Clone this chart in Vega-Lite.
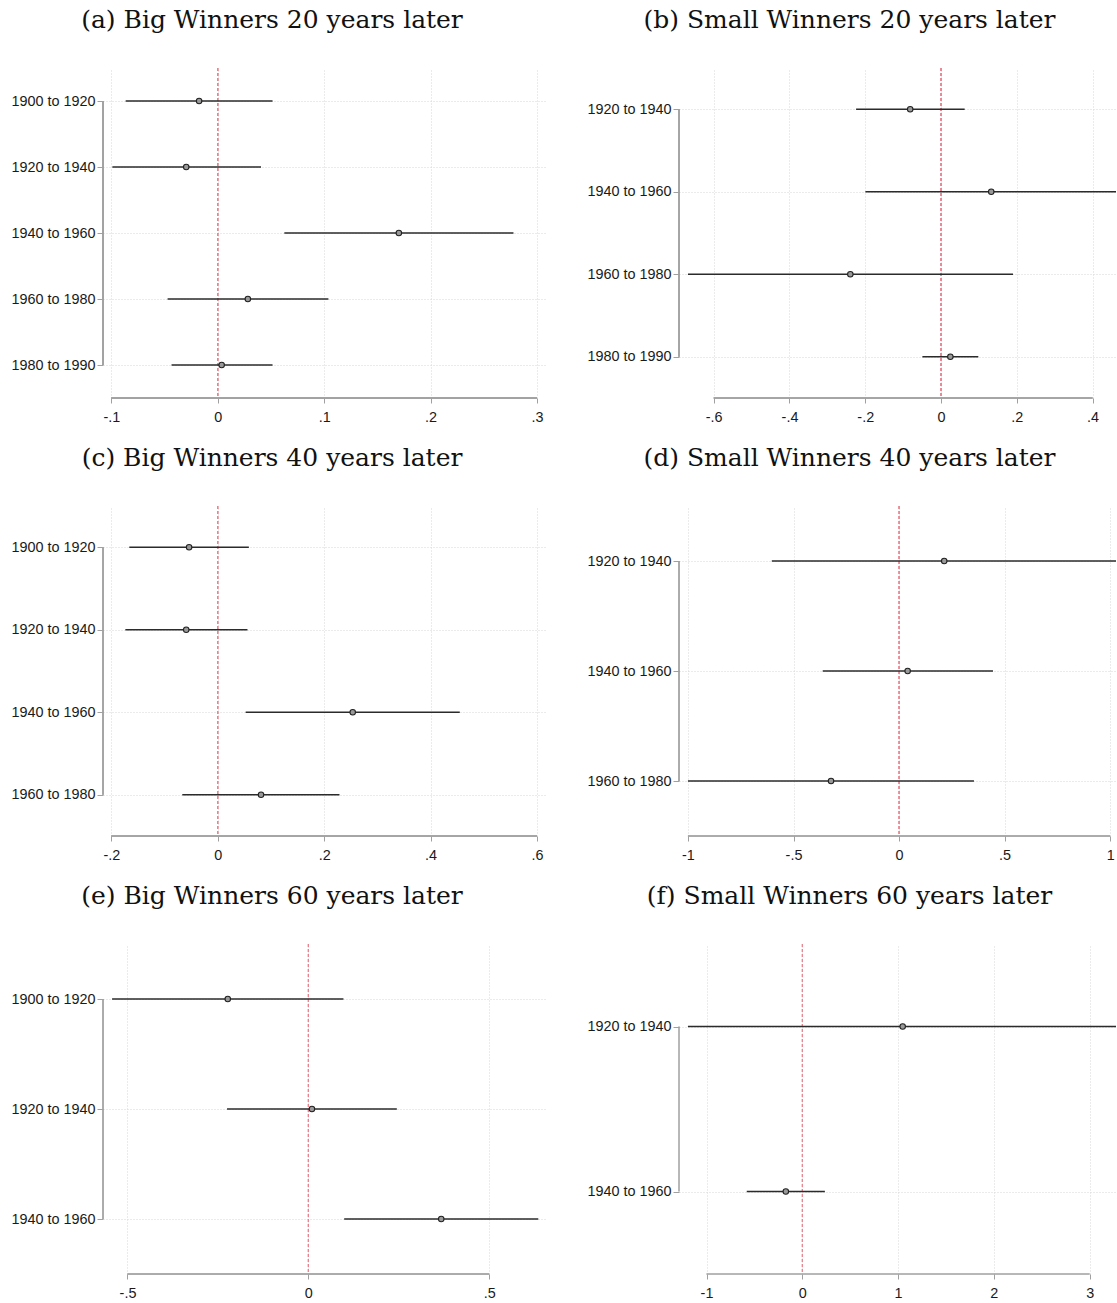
{
  "$schema": "https://vega.github.io/schema/vega-lite/v6.json",
  "padding": {"left": 10, "top": 7, "right": 0, "bottom": 0},
  "background": "white",
  "datasets": {
    "est": [
      {"panel": "a", "period": "1900 to 1920", "lo": -0.0865, "est": -0.0175, "hi": 0.0515},
      {"panel": "a", "period": "1920 to 1940", "lo": -0.099, "est": -0.0296, "hi": 0.0407},
      {"panel": "a", "period": "1940 to 1960", "lo": 0.0626, "est": 0.1702, "hi": 0.2779},
      {"panel": "a", "period": "1960 to 1980", "lo": -0.0471, "est": 0.0283, "hi": 0.104},
      {"panel": "a", "period": "1980 to 1990", "lo": -0.0434, "est": 0.0037, "hi": 0.0515},
      {"panel": "b", "period": "1920 to 1940", "lo": -0.2242, "est": -0.0814, "hi": 0.0624},
      {"panel": "b", "period": "1940 to 1960", "lo": -0.1996, "est": 0.1325, "hi": 0.47},
      {"panel": "b", "period": "1960 to 1980", "lo": -0.668, "est": -0.2394, "hi": 0.19},
      {"panel": "b", "period": "1980 to 1990", "lo": -0.0492, "est": 0.0246, "hi": 0.0984},
      {"panel": "c", "period": "1900 to 1920", "lo": -0.1662, "est": -0.0538, "hi": 0.0585},
      {"panel": "c", "period": "1920 to 1940", "lo": -0.1736, "est": -0.0592, "hi": 0.0559},
      {"panel": "c", "period": "1940 to 1960", "lo": 0.0525, "est": 0.2537, "hi": 0.4549},
      {"panel": "c", "period": "1960 to 1980", "lo": -0.0666, "est": 0.0814, "hi": 0.2288},
      {"panel": "d", "period": "1920 to 1940", "lo": -0.6027, "est": 0.2139, "hi": 1.05},
      {"panel": "d", "period": "1940 to 1960", "lo": -0.3616, "est": 0.0407, "hi": 0.4448},
      {"panel": "d", "period": "1960 to 1980", "lo": -1.0, "est": -0.3222, "hi": 0.3548},
      {"panel": "e", "period": "1900 to 1920", "lo": -0.5426, "est": -0.2228, "hi": 0.097},
      {"panel": "e", "period": "1920 to 1940", "lo": -0.2248, "est": 0.0099, "hi": 0.2446},
      {"panel": "e", "period": "1940 to 1960", "lo": 0.099, "est": 0.3673, "hi": 0.6356},
      {"panel": "f", "period": "1920 to 1940", "lo": -1.194, "est": 1.048, "hi": 3.35},
      {"panel": "f", "period": "1940 to 1960", "lo": -0.58, "est": -0.172, "hi": 0.2357}
    ]
  },
  "config": {
    "view": {"stroke": null},
    "font": "Liberation Sans",
    "axis": {"labelFont": "Liberation Sans", "labelFontSize": 14.4, "labelColor": "#1a1a1a", "domain": false, "tickColor": "#a0a0a0", "grid": true, "gridColor": "#d6d6d6", "gridDash": [1, 2], "gridWidth": 1},
    "axisX": {"tickSize": 5, "labelPadding": 7},
    "axisY": {"tickSize": 6, "labelPadding": 2},
    "title": {"font": "DejaVu Serif", "fontSize": 25, "fontWeight": "normal", "color": "#111111", "anchor": "middle", "baseline": "alphabetic", "offset": 35}
  },
  "spacing": 21,
  "vconcat": [
    {
      "spacing": 39,
      "hconcat": [
        {
          "title": {"text": "(a) Big Winners 20 years later", "dx": -53},
          "width": 444, "height": 330,
          "data": {"name": "est"},
          "transform": [{"filter": "datum.panel == 'a'"}],
          "layer": [
            {"mark": {"type": "rule", "color": "#a0a0a0", "strokeWidth": 1},
             "encoding": {
               "x": {"datum": -0.1078, "type": "quantitative", "scale": {"domain": [-0.1078, 0.3094], "nice": false, "zero": false}, "axis": {"title": null, "values": [-0.1, 0, 0.1, 0.2, 0.3], "labelExpr": "datum.value == 0 ? '0' : (datum.value < 0 ? '-' : '') + replace(toString(abs(datum.value)), '0.', '.')"}},
               "y": {"datum": "1900 to 1920", "type": "nominal", "scale": {"type": "point", "padding": 0.5, "domain": ["1900 to 1920", "1920 to 1940", "1940 to 1960", "1960 to 1980", "1980 to 1990"]}, "axis": {"title": null}},
               "y2": {"datum": "1980 to 1990"}}},
            {"mark": {"type": "rule", "color": "#a0a0a0", "strokeWidth": 1},
             "encoding": {"x": {"datum": -0.1, "type": "quantitative"}, "x2": {"datum": 0.3}, "y": {"value": "height"}}},
            {"mark": {"type": "rule", "color": "#e8848f", "strokeDash": [3, 2], "strokeWidth": 1},
             "encoding": {"x": {"datum": 0, "type": "quantitative"}}},
            {"mark": {"type": "rule", "color": "#2b2b2b", "strokeWidth": 1.5, "clip": true},
             "encoding": {"x": {"field": "lo", "type": "quantitative"}, "x2": {"field": "hi"}, "y": {"field": "period", "type": "nominal"}}},
            {"mark": {"type": "point", "shape": "circle", "filled": true, "fill": "#999999", "stroke": "#222222", "strokeWidth": 1.1, "size": 30, "opacity": 1},
             "encoding": {"x": {"field": "est", "type": "quantitative"}, "y": {"field": "period", "type": "nominal"}}}
          ]
        },
        {
          "title": {"text": "(b) Small Winners 20 years later", "dx": -48},
          "width": 437, "height": 330,
          "data": {"name": "est"},
          "transform": [{"filter": "datum.panel == 'b'"}],
          "layer": [
            {"mark": {"type": "rule", "color": "#a0a0a0", "strokeWidth": 1},
             "encoding": {
               "x": {"datum": -0.6916, "type": "quantitative", "scale": {"domain": [-0.6916, 0.4618], "nice": false, "zero": false}, "axis": {"title": null, "values": [-0.6, -0.4, -0.2, 0, 0.2, 0.4], "labelExpr": "datum.value == 0 ? '0' : (datum.value < 0 ? '-' : '') + replace(toString(abs(datum.value)), '0.', '.')"}},
               "y": {"datum": "1920 to 1940", "type": "nominal", "scale": {"type": "point", "padding": 0.5, "domain": ["1920 to 1940", "1940 to 1960", "1960 to 1980", "1980 to 1990"]}, "axis": {"title": null}},
               "y2": {"datum": "1980 to 1990"}}},
            {"mark": {"type": "rule", "color": "#a0a0a0", "strokeWidth": 1},
             "encoding": {"x": {"datum": -0.6, "type": "quantitative"}, "x2": {"datum": 0.4}, "y": {"value": "height"}}},
            {"mark": {"type": "rule", "color": "#e8848f", "strokeDash": [3, 2], "strokeWidth": 1},
             "encoding": {"x": {"datum": 0, "type": "quantitative"}}},
            {"mark": {"type": "rule", "color": "#2b2b2b", "strokeWidth": 1.5, "clip": true},
             "encoding": {"x": {"field": "lo", "type": "quantitative"}, "x2": {"field": "hi"}, "y": {"field": "period", "type": "nominal"}}},
            {"mark": {"type": "point", "shape": "circle", "filled": true, "fill": "#999999", "stroke": "#222222", "strokeWidth": 1.1, "size": 30, "opacity": 1},
             "encoding": {"x": {"field": "est", "type": "quantitative"}, "y": {"field": "period", "type": "nominal"}}}
          ]
        }
      ]
    },
    {
      "spacing": 39,
      "hconcat": [
        {
          "title": {"text": "(c) Big Winners 40 years later", "dx": -53},
          "width": 444, "height": 330,
          "data": {"name": "est"},
          "transform": [{"filter": "datum.panel == 'c'"}],
          "layer": [
            {"mark": {"type": "rule", "color": "#a0a0a0", "strokeWidth": 1},
             "encoding": {
               "x": {"datum": -0.2156, "type": "quantitative", "scale": {"domain": [-0.2156, 0.6188], "nice": false, "zero": false}, "axis": {"title": null, "values": [-0.2, 0, 0.2, 0.4, 0.6], "labelExpr": "datum.value == 0 ? '0' : (datum.value < 0 ? '-' : '') + replace(toString(abs(datum.value)), '0.', '.')"}},
               "y": {"datum": "1900 to 1920", "type": "nominal", "scale": {"type": "point", "padding": 0.5, "domain": ["1900 to 1920", "1920 to 1940", "1940 to 1960", "1960 to 1980"]}, "axis": {"title": null}},
               "y2": {"datum": "1960 to 1980"}}},
            {"mark": {"type": "rule", "color": "#a0a0a0", "strokeWidth": 1},
             "encoding": {"x": {"datum": -0.2, "type": "quantitative"}, "x2": {"datum": 0.6}, "y": {"value": "height"}}},
            {"mark": {"type": "rule", "color": "#e8848f", "strokeDash": [3, 2], "strokeWidth": 1},
             "encoding": {"x": {"datum": 0, "type": "quantitative"}}},
            {"mark": {"type": "rule", "color": "#2b2b2b", "strokeWidth": 1.5, "clip": true},
             "encoding": {"x": {"field": "lo", "type": "quantitative"}, "x2": {"field": "hi"}, "y": {"field": "period", "type": "nominal"}}},
            {"mark": {"type": "point", "shape": "circle", "filled": true, "fill": "#999999", "stroke": "#222222", "strokeWidth": 1.1, "size": 30, "opacity": 1},
             "encoding": {"x": {"field": "est", "type": "quantitative"}, "y": {"field": "period", "type": "nominal"}}}
          ]
        },
        {
          "title": {"text": "(d) Small Winners 40 years later", "dx": -48},
          "width": 437, "height": 330,
          "data": {"name": "est"},
          "transform": [{"filter": "datum.panel == 'd'"}],
          "layer": [
            {"mark": {"type": "rule", "color": "#a0a0a0", "strokeWidth": 1},
             "encoding": {
               "x": {"datum": -1.0424, "type": "quantitative", "scale": {"domain": [-1.0424, 1.0277], "nice": false, "zero": false}, "axis": {"title": null, "values": [-1, -0.5, 0, 0.5, 1], "labelExpr": "datum.value == 0 ? '0' : (datum.value < 0 ? '-' : '') + replace(toString(abs(datum.value)), '0.', '.')"}},
               "y": {"datum": "1920 to 1940", "type": "nominal", "scale": {"type": "point", "padding": 0.5, "domain": ["1920 to 1940", "1940 to 1960", "1960 to 1980"]}, "axis": {"title": null}},
               "y2": {"datum": "1960 to 1980"}}},
            {"mark": {"type": "rule", "color": "#a0a0a0", "strokeWidth": 1},
             "encoding": {"x": {"datum": -1, "type": "quantitative"}, "x2": {"datum": 1}, "y": {"value": "height"}}},
            {"mark": {"type": "rule", "color": "#e8848f", "strokeDash": [3, 2], "strokeWidth": 1},
             "encoding": {"x": {"datum": 0, "type": "quantitative"}}},
            {"mark": {"type": "rule", "color": "#2b2b2b", "strokeWidth": 1.5, "clip": true},
             "encoding": {"x": {"field": "lo", "type": "quantitative"}, "x2": {"field": "hi"}, "y": {"field": "period", "type": "nominal"}}},
            {"mark": {"type": "point", "shape": "circle", "filled": true, "fill": "#999999", "stroke": "#222222", "strokeWidth": 1.1, "size": 30, "opacity": 1},
             "encoding": {"x": {"field": "est", "type": "quantitative"}, "y": {"field": "period", "type": "nominal"}}}
          ]
        }
      ]
    },
    {
      "spacing": 39,
      "hconcat": [
        {
          "title": {"text": "(e) Big Winners 60 years later", "dx": -53},
          "width": 444, "height": 330,
          "data": {"name": "est"},
          "transform": [{"filter": "datum.panel == 'e'"}],
          "layer": [
            {"mark": {"type": "rule", "color": "#a0a0a0", "strokeWidth": 1},
             "encoding": {
               "x": {"datum": -0.5677, "type": "quantitative", "scale": {"domain": [-0.5677, 0.6597], "nice": false, "zero": false}, "axis": {"title": null, "values": [-0.5, 0, 0.5], "labelExpr": "datum.value == 0 ? '0' : (datum.value < 0 ? '-' : '') + replace(toString(abs(datum.value)), '0.', '.')"}},
               "y": {"datum": "1900 to 1920", "type": "nominal", "scale": {"type": "point", "padding": 0.5, "domain": ["1900 to 1920", "1920 to 1940", "1940 to 1960"]}, "axis": {"title": null}},
               "y2": {"datum": "1940 to 1960"}}},
            {"mark": {"type": "rule", "color": "#a0a0a0", "strokeWidth": 1},
             "encoding": {"x": {"datum": -0.5, "type": "quantitative"}, "x2": {"datum": 0.5}, "y": {"value": "height"}}},
            {"mark": {"type": "rule", "color": "#e8848f", "strokeDash": [3, 2], "strokeWidth": 1},
             "encoding": {"x": {"datum": 0, "type": "quantitative"}}},
            {"mark": {"type": "rule", "color": "#2b2b2b", "strokeWidth": 1.5, "clip": true},
             "encoding": {"x": {"field": "lo", "type": "quantitative"}, "x2": {"field": "hi"}, "y": {"field": "period", "type": "nominal"}}},
            {"mark": {"type": "point", "shape": "circle", "filled": true, "fill": "#999999", "stroke": "#222222", "strokeWidth": 1.1, "size": 30, "opacity": 1},
             "encoding": {"x": {"field": "est", "type": "quantitative"}, "y": {"field": "period", "type": "nominal"}}}
          ]
        },
        {
          "title": {"text": "(f) Small Winners 60 years later", "dx": -48},
          "width": 437, "height": 330,
          "data": {"name": "est"},
          "transform": [{"filter": "datum.panel == 'f'"}],
          "layer": [
            {"mark": {"type": "rule", "color": "#a0a0a0", "strokeWidth": 1},
             "encoding": {
               "x": {"datum": -1.2872, "type": "quantitative", "scale": {"domain": [-1.2872, 3.275], "nice": false, "zero": false}, "axis": {"title": null, "values": [-1, 0, 1, 2, 3], "labelExpr": "datum.value == 0 ? '0' : (datum.value < 0 ? '-' : '') + replace(toString(abs(datum.value)), '0.', '.')"}},
               "y": {"datum": "1920 to 1940", "type": "nominal", "scale": {"type": "point", "padding": 0.5, "domain": ["1920 to 1940", "1940 to 1960"]}, "axis": {"title": null}},
               "y2": {"datum": "1940 to 1960"}}},
            {"mark": {"type": "rule", "color": "#a0a0a0", "strokeWidth": 1},
             "encoding": {"x": {"datum": -1, "type": "quantitative"}, "x2": {"datum": 3}, "y": {"value": "height"}}},
            {"mark": {"type": "rule", "color": "#e8848f", "strokeDash": [3, 2], "strokeWidth": 1},
             "encoding": {"x": {"datum": 0, "type": "quantitative"}}},
            {"mark": {"type": "rule", "color": "#2b2b2b", "strokeWidth": 1.5, "clip": true},
             "encoding": {"x": {"field": "lo", "type": "quantitative"}, "x2": {"field": "hi"}, "y": {"field": "period", "type": "nominal"}}},
            {"mark": {"type": "point", "shape": "circle", "filled": true, "fill": "#999999", "stroke": "#222222", "strokeWidth": 1.1, "size": 30, "opacity": 1},
             "encoding": {"x": {"field": "est", "type": "quantitative"}, "y": {"field": "period", "type": "nominal"}}}
          ]
        }
      ]
    }
  ]
}
